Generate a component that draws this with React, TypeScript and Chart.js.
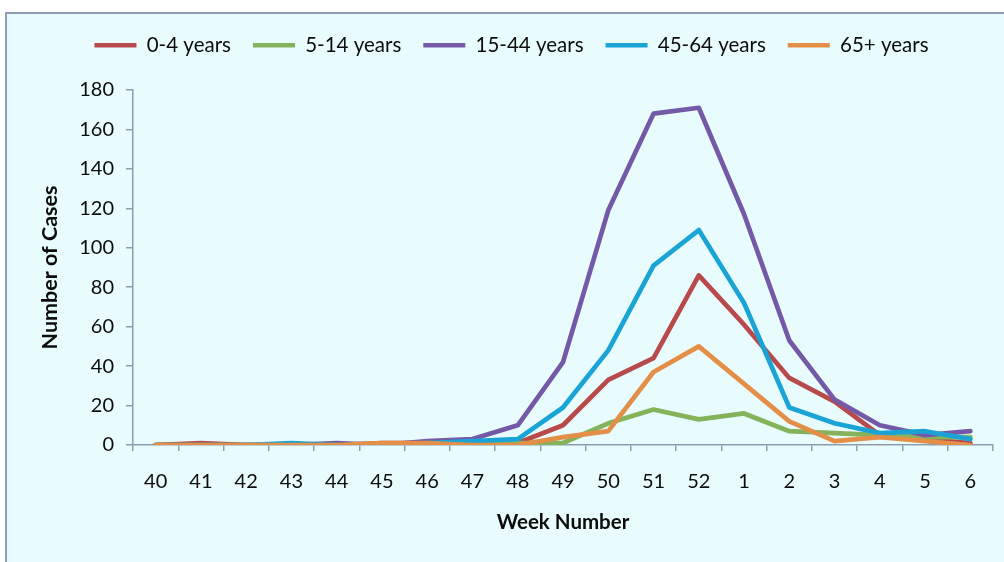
import React, { useEffect, useRef } from 'react';
import { Chart, registerables } from 'chart.js';

Chart.register(...registerables);

const weeks = ['40', '41', '42', '43', '44', '45', '46', '47', '48', '49', '50', '51', '52', '1', '2', '3', '4', '5', '6'];
const age0to4 = [0, 1, 0, 0, 0, 1, 1, 1, 1, 10, 33, 44, 86, 61, 34, 22, 5, 3, 1];
const age5to14 = [0, 0, 0, 0, 0, 0, 1, 1, 1, 1, 11, 18, 13, 16, 7, 6, 5, 4, 4];
const age15to44 = [0, 0, 0, 0, 1, 0, 2, 3, 10, 42, 119, 168, 171, 117, 53, 23, 10, 5, 7];
const age45to64 = [0, 0, 0, 1, 0, 0, 1, 2, 3, 19, 48, 91, 109, 72, 19, 11, 6, 7, 3];
const age65plus = [0, 0, 0, 0, 0, 1, 1, 0, 0, 4, 7, 37, 50, 31, 12, 2, 4, 2, 0];

const seriesNames = ['0-4 years', '5-14 years', '15-44 years', '45-64 years', '65+ years'];
const seriesValues = [age0to4, age5to14, age15to44, age45to64, age65plus];
const seriesColors = ['#b94a4c', '#84b35c', '#7459a6', '#1aa4d6', '#e38f48'];

const yMin = 0;
const yMax = 180;
const yStep = 20;

const FONT = 'Lato, "Liberation Sans", sans-serif';
const AXIS = '#8d9db1';

const legendHeightPlugin = {
  id: 'legendHeight',
  afterInit(chart: any) {
    const legend = chart.legend;
    if (legend && !legend.__patched) {
      const fit = legend.fit.bind(legend);
      legend.fit = () => {
        fit();
        legend.height = 77;
      };
      legend.__patched = true;
    }
  },
};

export default function App() {
  const ref = useRef<HTMLCanvasElement | null>(null);

  useEffect(() => {
    if (!ref.current) return;
    const n = seriesNames.length;
    const chart = new Chart(ref.current, {
      type: 'line',
      data: {
        labels: weeks,
        datasets: seriesNames.map((name, i) => ({
          label: name,
          data: seriesValues[i],
          borderColor: seriesColors[i],
          backgroundColor: seriesColors[i],
          borderWidth: 4.7,
          borderCapStyle: 'round' as const,
          borderJoinStyle: 'round' as const,
          pointRadius: 0,
          pointHoverRadius: 0,
          tension: 0,
          fill: false,
          order: n - 1 - i,
        })),
      },
      options: {
        animation: false,
        responsive: false,
        maintainAspectRatio: false,
        layout: { padding: { left: 30, right: 11, top: 13, bottom: 0 } },
        plugins: {
          legend: {
            position: 'top',
            labels: {
              usePointStyle: true,
              pointStyle: 'line',
              pointStyleWidth: 42,
              padding: 22,
              color: '#0c0c0c',
              font: { family: FONT, size: 20.5 },
              sort: (a: any, b: any) => a.datasetIndex - b.datasetIndex,
            },
          },
          tooltip: { enabled: false },
        },
        scales: {
          x: {
            type: 'category',
            offset: true,
            grid: {
              offset: true,
              drawOnChartArea: false,
              drawTicks: true,
              tickLength: 6,
              color: AXIS,
              lineWidth: 1.5,
            },
            border: { display: true, color: AXIS, width: 1.5 },
            ticks: {
              color: '#0c0c0c',
              font: { family: FONT, size: 20 },
              padding: 19,
              maxRotation: 0,
              autoSkip: false,
            },
            title: {
              display: true,
              text: 'Week Number',
              color: '#0c0c0c',
              font: { family: FONT, size: 20.5, weight: 'bold' },
              padding: { top: 0, bottom: 27 },
            },
            afterFit: (s: any) => {
              s.height = 117;
            },
          },
          y: {
            min: yMin,
            max: yMax,
            grid: {
              drawOnChartArea: false,
              drawTicks: true,
              tickLength: 7,
              color: AXIS,
              lineWidth: 1.5,
            },
            border: { display: true, color: AXIS, width: 1.5 },
            ticks: {
              stepSize: yStep,
              color: '#0c0c0c',
              font: { family: FONT, size: 20 },
              padding: 12,
            },
            title: {
              display: true,
              text: 'Number of Cases',
              color: '#0c0c0c',
              font: { family: FONT, size: 21.5, weight: 'bold' },
              padding: { top: 7, bottom: 0 },
            },
            afterFit: (s: any) => {
              s.width = 103;
            },
          },
        },
      } as any,
      plugins: [legendHeightPlugin],
    });
    return () => chart.destroy();
  }, []);

  return (
    <div
      style={{
        position: 'fixed',
        left: 0,
        top: 0,
        width: 1004,
        height: 562,
        overflow: 'hidden',
        background: '#ffffff',
      }}
    >
      <div
        style={{
          position: 'absolute',
          left: 5,
          top: 12,
          width: 1020,
          height: 580,
          border: `2px solid ${AXIS}`,
          background: '#e9fcfd',
          boxSizing: 'border-box',
        }}
      />
      <canvas
        ref={ref}
        width={1004}
        height={562}
        style={{ position: 'absolute', left: 0, top: 0, width: 1004, height: 562 }}
      />
    </div>
  );
}
